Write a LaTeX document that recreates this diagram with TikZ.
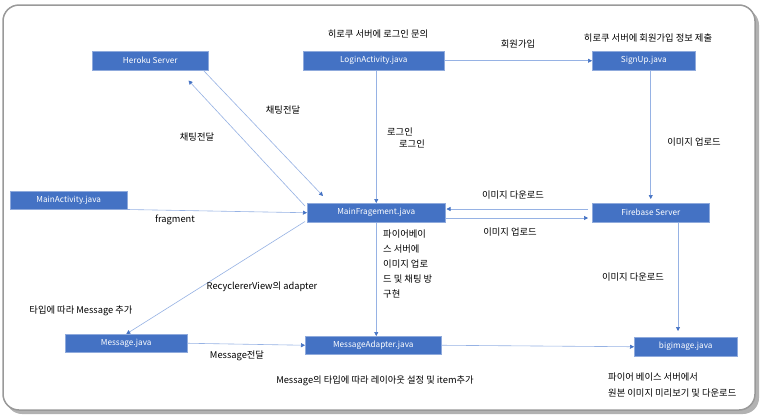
\documentclass[tikz,border=0pt]{standalone}
\usepackage{fontspec}
\newfontfamily\kr{Noto Sans CJK KR}
\usetikzlibrary{arrows.meta}
\definecolor{boxblue}{RGB}{68,114,196}
\definecolor{boxedge}{RGB}{143,170,220}
\definecolor{lineblue}{RGB}{150,178,228}
\definecolor{tipblue}{RGB}{68,114,196}
\begin{document}
\begin{tikzpicture}[x=1pt,y=-1pt,
  box/.style={draw=boxedge, line width=0.5pt, fill=boxblue, text=white,
    font=\kr\fontsize{8.2}{9}\selectfont, inner sep=0pt, anchor=north west},
  lbl/.style={font=\kr\fontsize{9.3}{11}\selectfont, text=black, inner sep=1pt},
  conn/.style={draw=lineblue, line width=0.6pt,
    -{Triangle[length=4pt,width=4pt,color=tipblue]}}]
\useasboundingbox (0,0) rectangle (762,418);
% frame
\fill[black!30, rounded corners=16pt] (6,9) rectangle (759,414);
\draw[black!40, line width=1.5pt, fill=white, rounded corners=16pt] (3,5) rectangle (755,410);
% boxes
\node[box, minimum width=116pt, minimum height=19pt] (heroku) at (92,51) {Heroku Server};
\node[box, minimum width=141pt, minimum height=19pt] (login) at (303,51) {LoginActivity.java};
\node[box, minimum width=103pt, minimum height=19pt] (signup) at (592,51) {SignUp.java};
\node[box, minimum width=117pt, minimum height=18pt] (mainact) at (10,191) {MainActivity.java};
\node[box, minimum width=138pt, minimum height=19pt] (mainfrag) at (307,203) {MainFragement.java};
\node[box, minimum width=117pt, minimum height=19pt] (firebase) at (592,203) {Firebase Server};
\node[box, minimum width=122pt, minimum height=18pt] (message) at (65,334) {Message.java};
\node[box, minimum width=136pt, minimum height=18pt] (msgad) at (305,336) {MessageAdapter.java};
\node[box, minimum width=103pt, minimum height=19pt] (bigimg) at (634,337) {bigimage.java};
% helper coordinates
\coordinate (yA) at (0,209);
\coordinate (yB) at (0,218);
\coordinate (xC) at (678,0);
% connectors
\draw[conn] (login.east) -- (signup.west);
\draw[conn] (login.south -| mainfrag.north) -- (mainfrag.north);
\draw[conn] (signup.south -| firebase.north) -- ([yshift=4pt]firebase.north);
\draw[conn] ([xshift=-4pt]firebase.west |- yA) -- ([xshift=1pt]mainfrag.east |- yA);
\draw[conn] (mainfrag.east |- yB) -- ([xshift=-4pt]firebase.west |- yB);
\draw[conn] (firebase.south -| xC) -- ([yshift=6pt]bigimg.north -| xC);
\draw[conn] ([xshift=-5pt]heroku.south east) -- ([xshift=16pt,yshift=7pt]mainfrag.north west);
\draw[conn] ([xshift=-2pt,yshift=-3pt]mainfrag.north west) -- ([xshift=-20pt,yshift=-10pt]heroku.south east);
\draw[conn] (mainact.south east) -- (mainfrag.west);
\draw[conn] ([xshift=-2pt,yshift=1pt]mainfrag.south west) -- (message.north);
\draw[conn] (message.east) -- (msgad.west);
\draw[conn] (msgad.east) -- (bigimg.west);
\draw[conn] (mainfrag.south) -- (mainfrag.south |- msgad.north);
% labels
\node[lbl] (l1) at (378,34) {히로쿠 서버에 로그인 문의};
\node[lbl] (l2) at (518,44) {회원가입};
\node[lbl] (l3) at (648,38) {히로쿠 서버에 회원가입 정보 제출};
\node[lbl] (l4) at (283,110) {채팅전달};
\node[lbl] (l5) at (197,137) {채팅전달};
\node[lbl] (l6) at (400,132) {로그인};
\node[lbl] (l7) at (412,144) {로그인};
\node[lbl] (l8) at (694,142) {이미지 업로드};
\node[lbl] (l9) at (513,195) {이미지 다운로드};
\node[lbl] (l10) at (510,232) {이미지 업로드};
\node[lbl] (l11) at (633,277) {이미지 다운로드};
\node[lbl] (l12) at (175,220) {fragment};
\node[lbl] (l13) at (262,287) {RecyclererView의 adapter};
\node[lbl] (l14) at (81,311) {타입에 따라 Message 추가};
\node[lbl] (l15) at (237,356) {Message전달};
\node[lbl] (l16) at (375,381) {Message의 타입에 따라 레이아웃 설정 및 item추가};
\node[lbl, anchor=west] (l17) at (607,377) {파이어 베이스 서버에서};
\node[lbl, anchor=west] (l18) at (607,393) {원본 이미지 미리보기 및 다운로드};
\node[lbl, anchor=north west, align=left, font=\kr\fontsize{9.3}{14.8}\selectfont] (l19) at (382,229)
  {파이어베이\\스 서버에\\이미지 업로\\드 및 채팅 방\\구현};
\end{tikzpicture}
\end{document}
